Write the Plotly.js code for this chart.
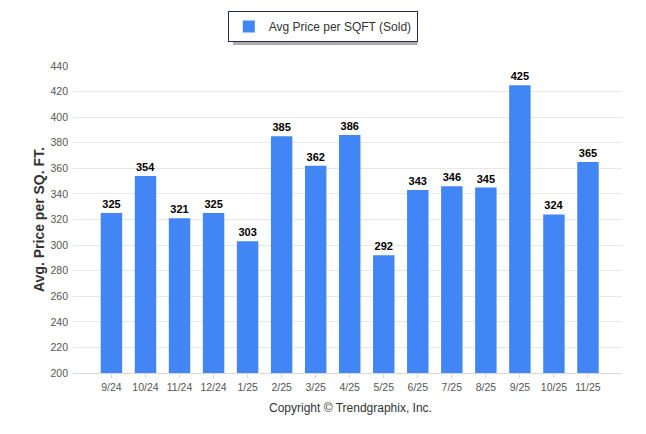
<!DOCTYPE html>
<html>
<head>
<meta charset="utf-8">
<script src="https://cdn.plot.ly/plotly-3.0.1.min.js"></script>
<style>html,body{margin:0;padding:0;background:#fff;}#chart{width:646px;height:434px;}</style>
</head>
<body>
<div id="chart"></div>
<script>
const months = ["9/24","10/24","11/24","12/24","1/25","2/25","3/25","4/25","5/25","6/25","7/25","8/25","9/25","10/25","11/25"];
const avgPriceSqft = [325,354,321,325,303,385,362,386,292,343,346,345,425,324,365];
const seriesName = "Avg Price per SQFT (Sold)";
const yTickVals = [200,220,240,260,280,300,320,340,360,380,400,420,440];

const idx = months.map((_, i) => i);
const tickFont = {family: "Liberation Sans, Arial, sans-serif", size: 10.5, color: "#555"};

const trace = {
  type: "bar",
  x: idx,
  y: avgPriceSqft,
  name: seriesName,
  marker: {color: "#4285f4"},
  width: 0.63,
  text: avgPriceSqft.map(String),
  textposition: "outside",
  cliponaxis: false,
  textfont: {family: "Liberation Sans, Arial, sans-serif", size: 11, color: "#000", weight: "bold"},
  hoverinfo: "none"
};

const layout = {
  width: 646, height: 434,
  margin: {l: 73, r: 24, t: 65, b: 61.3},
  paper_bgcolor: "#fff", plot_bgcolor: "#fff",
  showlegend: true,
  font: tickFont,
  bargap: 0.37,
  xaxis: {
    range: [-1.13, 15.0],
    tickvals: idx,
    ticktext: months,
    showgrid: false,
    zeroline: false,
    showline: true, linecolor: "#d8d8d8", linewidth: 1,
    ticks: "outside", ticklen: 4, tickcolor: "#d8d8d8",
    tickfont: tickFont,
    fixedrange: true
  },
  yaxis: {
    range: [200, 440],
    tickvals: yTickVals,
    showgrid: true, gridcolor: "#e8e8e8", gridwidth: 1,
    zeroline: false,
    showline: false,
    ticks: "",
    ticklabelstandoff: 4,
    tickfont: tickFont,
    title: {text: "Avg. Price per SQ. FT.", standoff: 2,
            font: {family: "Liberation Sans, Arial, sans-serif", size: 14, color: "#333", weight: "bold"}},
    fixedrange: true
  },
  legend: {
    x: 0.455, xanchor: "center", y: 1.175, yanchor: "top",
    orientation: "h",
    bgcolor: "#fff", bordercolor: "#1f2d4d", borderwidth: 1,
    font: {family: "Liberation Sans, Arial, sans-serif", size: 12, color: "#333"},
    itemwidth: 30
  },
  shapes: [
    {type: "rect", xref: "paper", yref: "paper", layer: "below",
     x0: (233 - 73) / 549, x1: (417.5 - 73) / 549,
     y0: (372.7 - 44) / 307.7, y1: (372.7 - 17) / 307.7,
     fillcolor: "#aaa", line: {width: 0}}
  ],
  annotations: [
    {text: "Copyright © Trendgraphix, Inc.", xref: "paper", yref: "paper",
     x: (350 - 73) / 549, y: (372.7 - 408) / 307.7, xanchor: "center", yanchor: "middle",
     showarrow: false, font: {family: "Liberation Sans, Arial, sans-serif", size: 12, color: "#333"}}
  ]
};

Plotly.newPlot("chart", [trace], layout, {displayModeBar: false, staticPlot: true});
</script>
</body>
</html>
